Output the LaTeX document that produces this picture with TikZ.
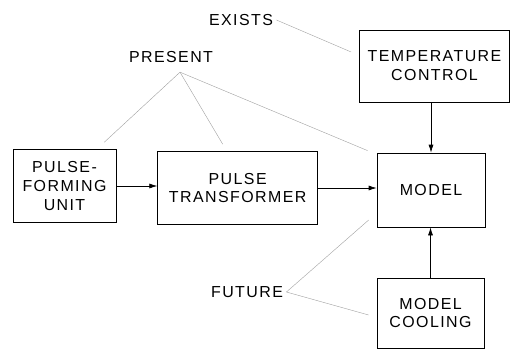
\documentclass[tikz,border=0pt]{standalone}
\usepackage{fontspec}
\setmainfont{Liberation Sans}[LetterSpace=9]
\usepackage{tikz}
\usetikzlibrary{arrows.meta,positioning,calc}

\begin{document}
\begin{tikzpicture}[
  x=1bp, y=-1bp,
  node distance=41bp,
  font=\fontsize{16}{19}\selectfont,
  box/.style={draw, line width=0.7pt, align=center, inner sep=2pt},
  arrow/.style={-{Latex[length=8bp,width=5bp]}, line width=0.7pt},
  note/.style={draw=gray!75, line width=0.4pt}
]
\useasboundingbox (0,0) rectangle (510,350);

% main row
\node[box, minimum width=103bp, minimum height=73bp] (pfu) at (64.5,186) {PULSE-\\FORMING\\UNIT};
\node[box, minimum width=160bp, minimum height=73bp, right=41bp of pfu, yshift=-2bp] (pt) {PULSE\\TRANSFORMER};
\node[box, minimum width=108bp, minimum height=74bp] (model) at (431,190) {MODEL};
\node[box, minimum width=150bp, minimum height=72bp] (temp) at (434.5,66) {TEMPERATURE\\CONTROL};
\node[box, minimum width=107bp, minimum height=70bp] (cool) at (430.5,313) {MODEL\\COOLING};

% labels
\node (exists) at (241,20) {EXISTS};
\node (present) at (171,57) {PRESENT};
\node (future) at (247,292) {FUTURE};

\draw[arrow] (pfu) -- (pfu -| pt.west);
\draw[arrow] (pt) -- (pt -| model.west);
\draw[arrow] (temp.south -| model.north) -- (model);
\draw[arrow] (cool.north) -- (model.south -| cool.north);

% notes
\draw[note] (exists.east) -- ([shift={(-8,-14)}]temp.west);
\draw[note] ([shift={(9,6)}]present.south) -- ([shift={(-12,-7)}]pfu.north east);
\draw[note] ([shift={(9,6)}]present.south) -- ([shift={(-15,-7)}]pt.north);
\draw[note] ([shift={(9,6)}]present.south) -- ([shift={(-9,-2)}]model.north west);
\draw[note] (future.east) -- ([shift={(-8,30)}]model.west);
\draw[note] (future.east) -- ([shift={(-8,2)}]cool.west);
\end{tikzpicture}
\end{document}
